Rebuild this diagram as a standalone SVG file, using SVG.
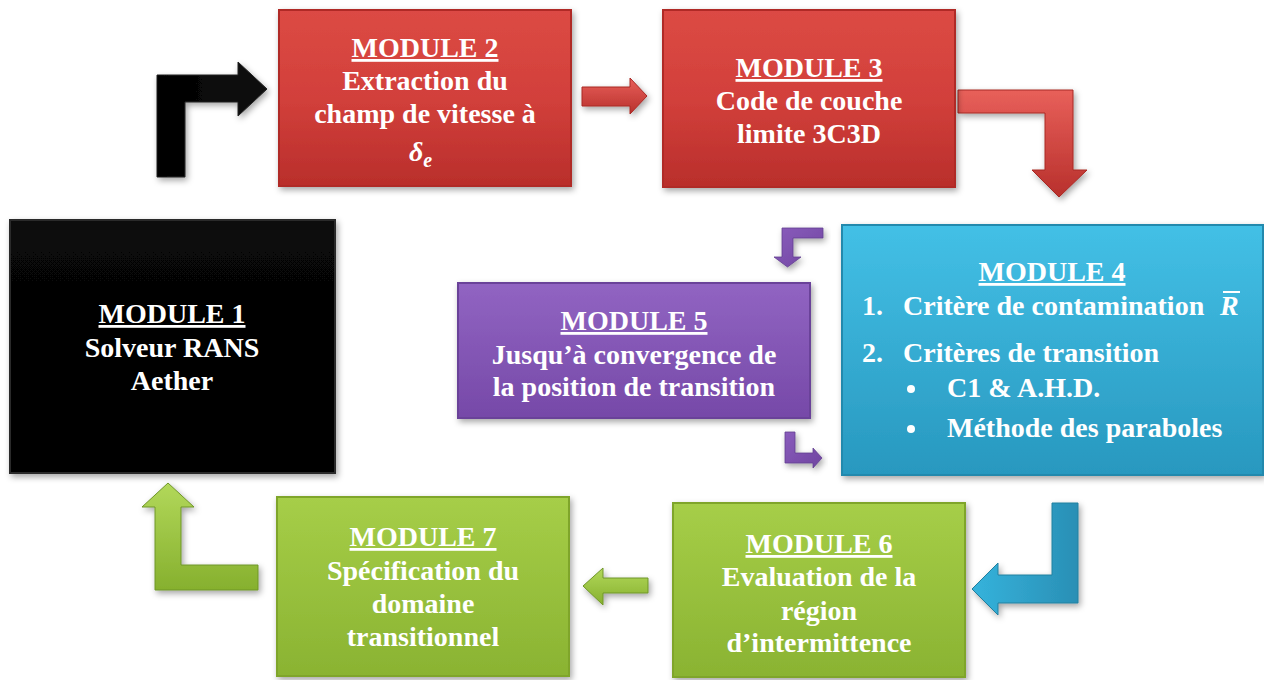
<svg xmlns="http://www.w3.org/2000/svg" width="1264" height="680" viewBox="0 0 1264 680">
<defs>
<filter id="sh" x="-10%" y="-10%" width="125%" height="130%">
<feDropShadow dx="2" dy="3" stdDeviation="3" flood-color="#000" flood-opacity="0.35"/>
</filter>
<linearGradient id="gRed" x1="0" y1="0" x2="0" y2="1"><stop offset="0" stop-color="#dc4a44"/><stop offset="0.5" stop-color="#d2403b"/><stop offset="1" stop-color="#b92e2b"/></linearGradient>
<linearGradient id="gBlack" x1="0" y1="0" x2="0" y2="1"><stop offset="0" stop-color="#080808"/><stop offset="1" stop-color="#000"/></linearGradient>
<linearGradient id="gCyan" x1="0" y1="0" x2="0" y2="1"><stop offset="0" stop-color="#43c0e6"/><stop offset="1" stop-color="#2898bf"/></linearGradient>
<linearGradient id="gPurple" x1="0" y1="0" x2="0" y2="1"><stop offset="0" stop-color="#9164c2"/><stop offset="1" stop-color="#7649a8"/></linearGradient>
<linearGradient id="gGreen" x1="0" y1="0" x2="0" y2="1"><stop offset="0" stop-color="#a6ce48"/><stop offset="1" stop-color="#8ab332"/></linearGradient>
<linearGradient id="aRed" x1="0" y1="0" x2="0" y2="1"><stop offset="0" stop-color="#e8605a"/><stop offset="1" stop-color="#b8302c"/></linearGradient>
<linearGradient id="aBlack" x1="0" y1="0" x2="1" y2="0"><stop offset="0" stop-color="#000"/><stop offset="1" stop-color="#111"/></linearGradient>
<linearGradient id="aBlue" x1="0" y1="0" x2="1" y2="0"><stop offset="0" stop-color="#35b3dc"/><stop offset="1" stop-color="#2a8fb5"/></linearGradient>
<linearGradient id="aPurple" x1="0" y1="0" x2="1" y2="1"><stop offset="0" stop-color="#8a5cbc"/><stop offset="1" stop-color="#6f45a0"/></linearGradient>
<linearGradient id="aGreen" x1="0" y1="0" x2="0" y2="1"><stop offset="0" stop-color="#b2d85a"/><stop offset="1" stop-color="#86b02e"/></linearGradient>
</defs>
<style>
.t{font-family:"Liberation Serif","Times New Roman",serif;font-weight:bold;font-size:28px;fill:#fff;}
.c{text-anchor:middle;}
.u{text-decoration:underline;}
.box{filter:url(#sh);}
.arr{filter:url(#sh);}
</style>
<rect width="1264" height="680" fill="#fff"/>

<g id="connectors">
<polygon class="arr" fill="url(#aBlack)" stroke="#222" stroke-width="1" points="157,177 157,75 238,75 238,62 267,89 238,116 238,102 185,102 185,177"/>
<polygon class="arr" fill="url(#aRed)" stroke="#a82824" stroke-width="1" points="582,87 630,87 630,78 647,96 630,114 630,106 582,106"/>
<polygon class="arr" fill="url(#aRed)" stroke="#a82824" stroke-width="1" points="958,90 1073,90 1073,170 1087,170 1059,197 1032,170 1045,170 1045,113 958,113"/>
<polygon class="arr" fill="url(#aPurple)" stroke="#63408f" stroke-width="0.8" points="823,228 823,238 793,238 793,257 801,257 787.5,267 774,257 782,257 782,228"/>
<polygon class="arr" fill="url(#aPurple)" stroke="#63408f" stroke-width="0.8" points="785,432 795,432 795,453 813,453 813,448 822,458 813,468 813,463 785,463"/>
<polygon class="arr" fill="url(#aBlue)" stroke="#23809f" stroke-width="1" points="1052,503 1078,503 1078,603 998,603 998,615 972,589 998,563 998,575 1052,575"/>
<polygon class="arr" fill="url(#aGreen)" stroke="#6f9628" stroke-width="1" points="648,578 648,593 603,593 603,605 583,586 603,568 603,578"/>
<polygon class="arr" fill="url(#aGreen)" stroke="#6f9628" stroke-width="1" points="155,590 155,507 142,507 168,483 194,507 181,507 181,565 258,565 258,590"/>
</g>

<g id="module1">
<rect class="box" x="10" y="220" width="325" height="253" fill="url(#gBlack)" stroke="#2a2a2a" stroke-width="2"/>
<text class="t c u" x="172" y="323">MODULE 1</text>
<text class="t c" x="172" y="357">Solveur RANS</text>
<text class="t c" x="172" y="390">Aether</text>
</g>

<g id="module2">
<rect class="box" x="279" y="10" width="292" height="176" fill="url(#gRed)" stroke="#b02c28" stroke-width="2"/>
<text class="t c u" x="425" y="57">MODULE 2</text>
<text class="t c" x="425" y="90">Extraction du</text>
<text class="t c" x="425" y="123">champ de vitesse à</text>
<text class="t" x="409" y="161" style="font-style:italic">δ<tspan font-size="20" dy="6">e</tspan></text>
</g>

<g id="module3">
<rect class="box" x="663" y="10" width="292" height="177" fill="url(#gRed)" stroke="#b02c28" stroke-width="2"/>
<text class="t c u" x="809" y="77">MODULE 3</text>
<text class="t c" x="809" y="110">Code de couche</text>
<text class="t c" x="809" y="143">limite 3C3D</text>
</g>

<g id="module4">
<rect class="box" x="842" y="225" width="421" height="250" fill="url(#gCyan)" stroke="#2389ad" stroke-width="2"/>
<text class="t c u" x="1052" y="281">MODULE 4</text>
<text class="t" x="862" y="315">1.</text>
<text class="t" x="903" y="315">Critère de contamination</text>
<text class="t" x="1220" y="315" style="font-style:italic">R</text>
<line x1="1223" y1="292" x2="1240" y2="292" stroke="#fff" stroke-width="2"/>
<text class="t" x="862" y="362">2.</text>
<text class="t" x="903" y="362">Critères de transition</text>
<circle cx="911" cy="389" r="4" fill="#fff"/>
<text class="t" x="947" y="397">C1 &amp; A.H.D.</text>
<circle cx="911" cy="429" r="4" fill="#fff"/>
<text class="t" x="947" y="437">Méthode des paraboles</text>
</g>

<g id="module5">
<rect class="box" x="458" y="283" width="352" height="135" fill="url(#gPurple)" stroke="#6a4299" stroke-width="2"/>
<text class="t c u" x="634" y="330">MODULE 5</text>
<text class="t c" x="634" y="364">Jusqu’à convergence de</text>
<text class="t c" x="634" y="396">la position de transition</text>
</g>

<g id="module6">
<rect class="box" x="673" y="503" width="292" height="174" fill="url(#gGreen)" stroke="#7fa52c" stroke-width="2"/>
<text class="t c u" x="819" y="553">MODULE 6</text>
<text class="t c" x="819" y="586">Evaluation de la</text>
<text class="t c" x="819" y="620">région</text>
<text class="t c" x="819" y="652">d’intermittence</text>
</g>

<g id="module7">
<rect class="box" x="277" y="497" width="292" height="179" fill="url(#gGreen)" stroke="#7fa52c" stroke-width="2"/>
<text class="t c u" x="423" y="546">MODULE 7</text>
<text class="t c" x="423" y="580">Spécification du</text>
<text class="t c" x="423" y="613">domaine</text>
<text class="t c" x="423" y="646">transitionnel</text>
</g>
</svg>
